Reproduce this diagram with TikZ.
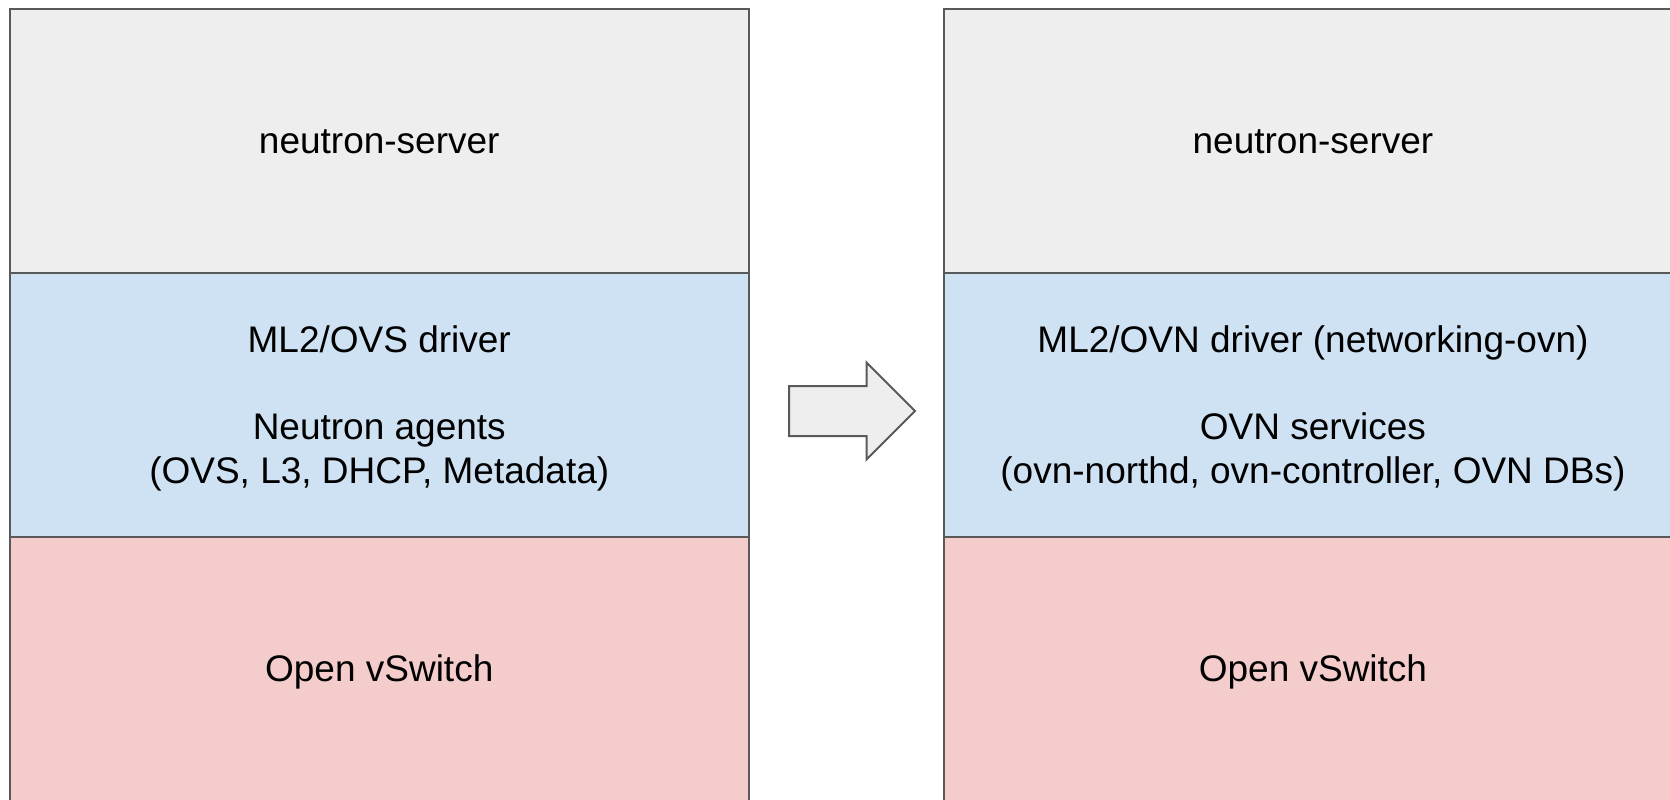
\documentclass[tikz,border=0pt]{standalone}
\usepackage{fontspec}
\setmainfont{Liberation Sans}
\usetikzlibrary{positioning,shapes.arrows}

\definecolor{edgegray}{HTML}{595959}
\definecolor{servergray}{HTML}{EEEEEE}
\definecolor{driverblue}{HTML}{CFE2F3}
\definecolor{switchred}{HTML}{F4CCCC}

\begin{document}
\begin{tikzpicture}[x=0.5pt, y=-0.5pt, node distance=97.6pt,
  every node/.style={draw=edgegray, line width=1pt, outer sep=0pt, align=center, font=\fontsize{18.5}{21.75}\selectfont},
  layer/.style={minimum width=369.25pt, minimum height=132pt, inner sep=0pt, text height=12.85pt, text depth=0pt},
  stack/.style={layer, text height=78.25pt}]
\useasboundingbox (0,0) rectangle (1670,799);
\clip (0,0) rectangle (1670,799);
% before: ML2/OVS
\node[layer, fill=servergray] (lserver) at (379.25,140.75) {neutron-server};
\node[stack, fill=driverblue, below=0pt of lserver] (ldriver) {ML2/OVS driver\\[21.75pt]Neutron agents\\(OVS, L3, DHCP, Metadata)};
\node[layer, fill=switchred, below=0pt of ldriver] (lswitch) {Open vSwitch};
% after: ML2/OVN
\node[layer, fill=servergray, right=of lserver] (rserver) {neutron-server};
\node[stack, fill=driverblue, below=0pt of rserver] (rdriver) {ML2/OVN driver (networking-ovn)\\[21.75pt]OVN services\\(ovn-northd, ovn-controller, OVN DBs)};
\node[layer, fill=switchred, below=0pt of rdriver] (rswitch) {Open vSwitch};
% migration arrow
\node[single arrow, fill=servergray, inner xsep=0pt, inner ysep=12pt, minimum height=63pt, single arrow head extend=11.75pt, anchor=tail] (migrate) at (789,411) {};
\end{tikzpicture}
\end{document}
